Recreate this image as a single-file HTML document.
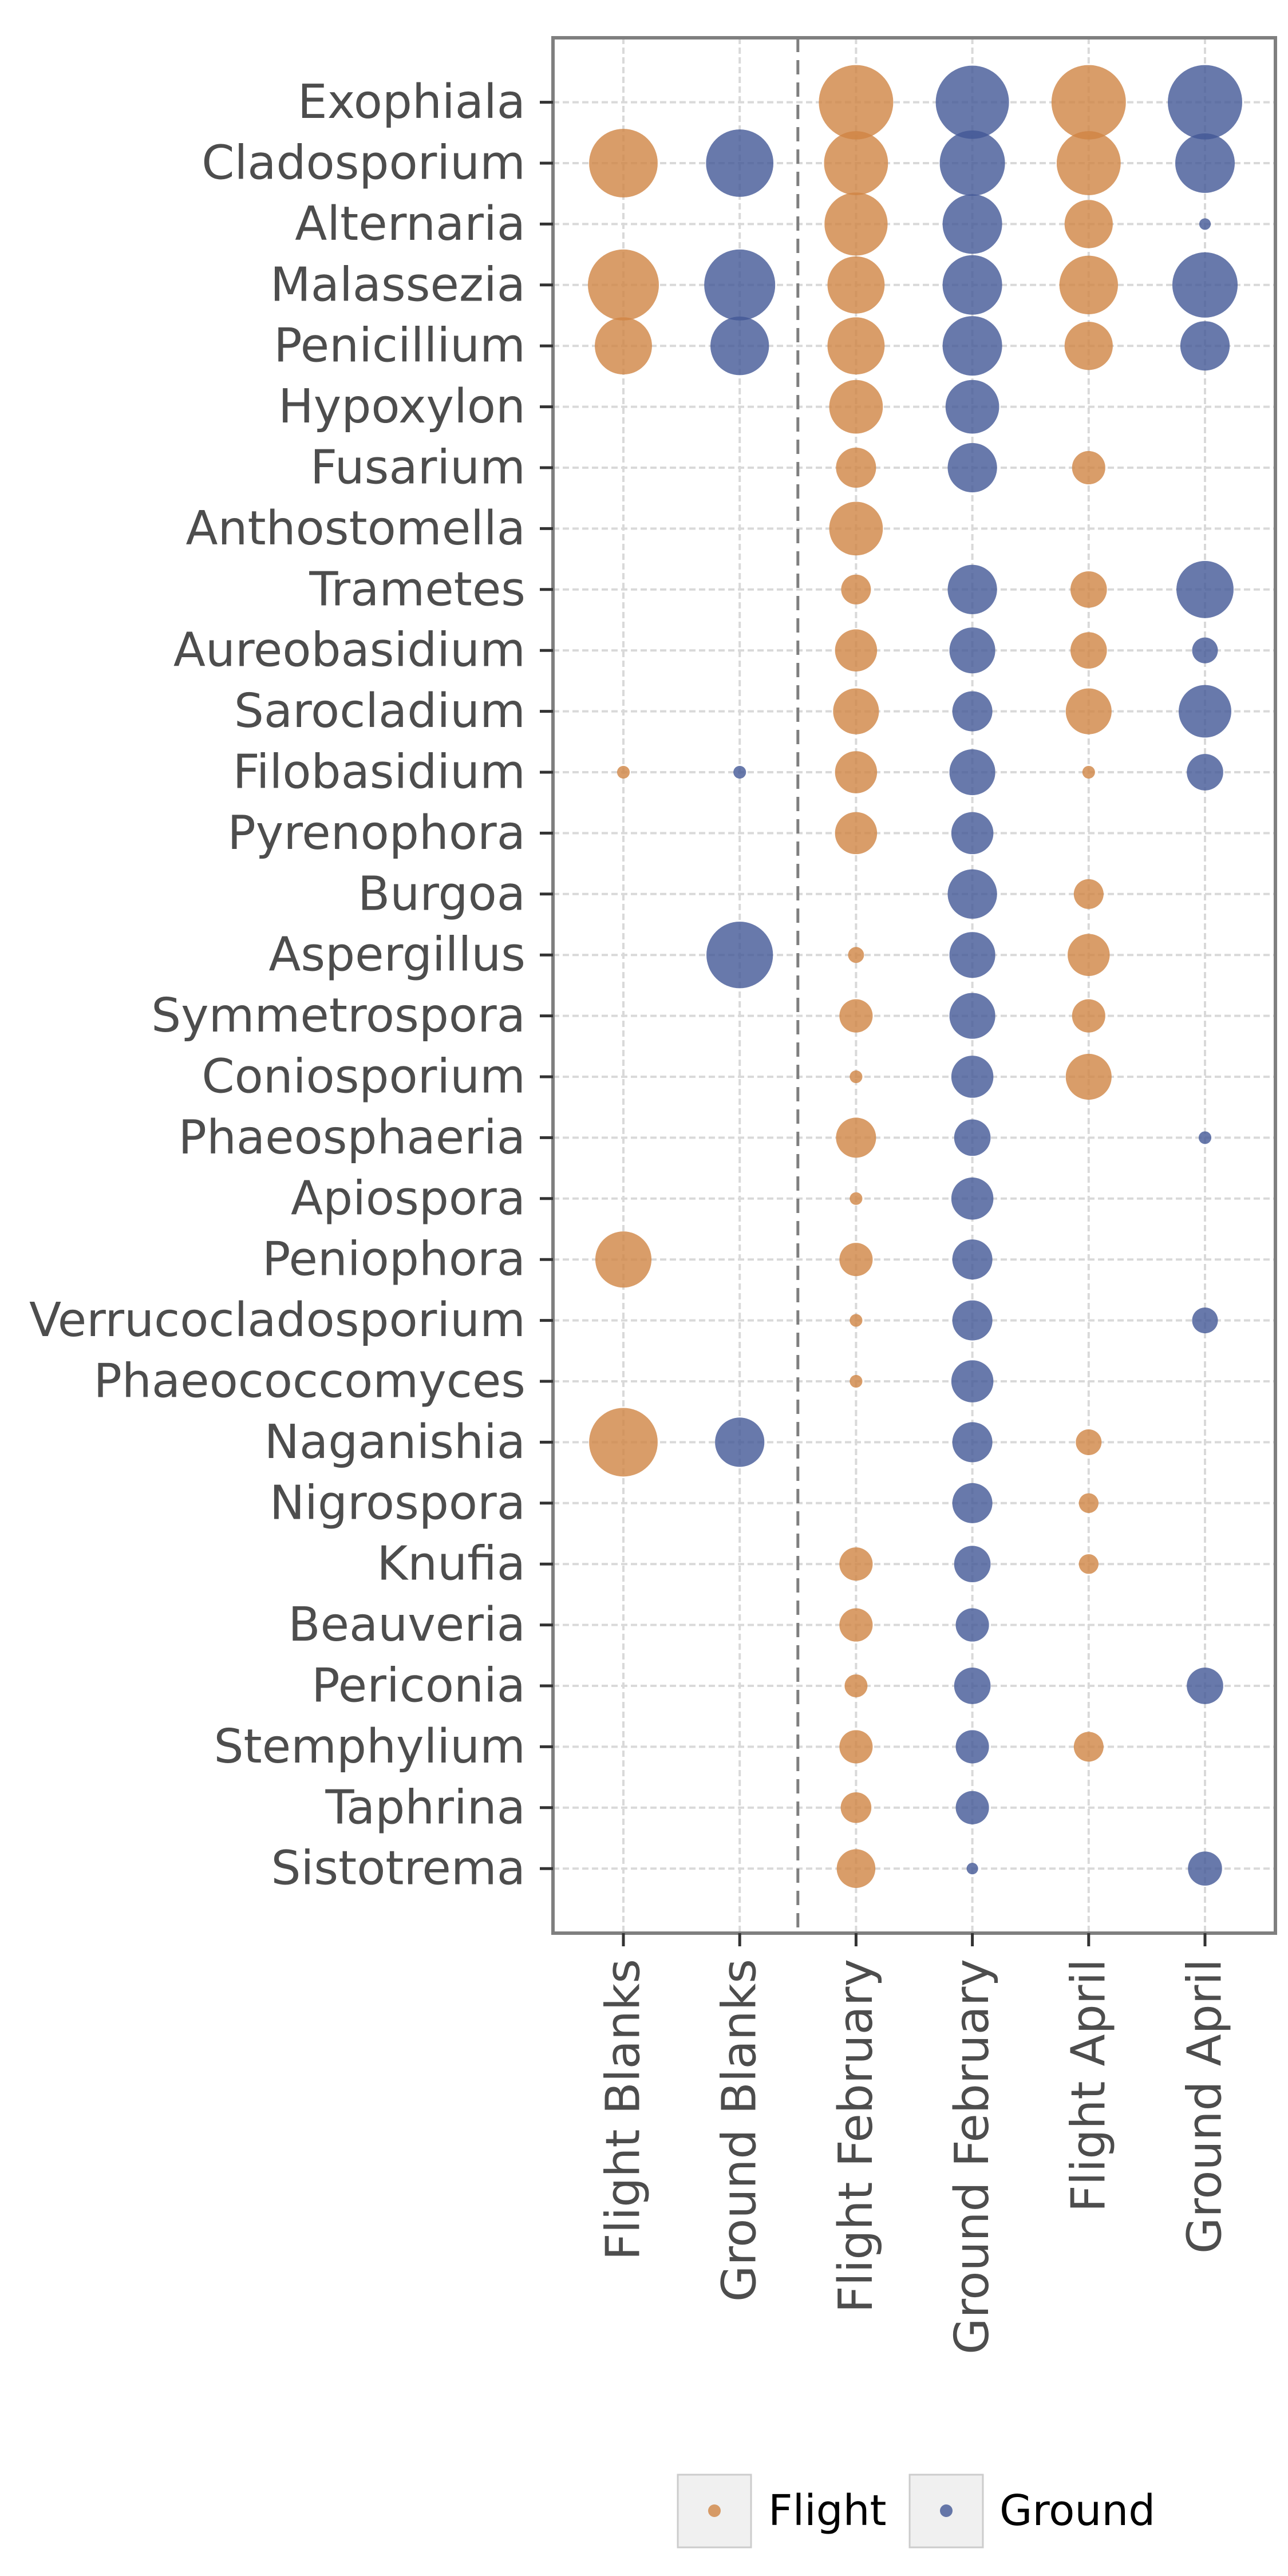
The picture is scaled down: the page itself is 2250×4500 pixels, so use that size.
<!DOCTYPE html>
<html><head><meta charset="utf-8"><style>
html,body{margin:0;padding:0;background:#fff;}
svg{display:block;}
text{font-family:"DejaVu Sans","Liberation Sans",sans-serif;}
</style></head><body>
<svg id="chart" width="2250" height="4500" viewBox="0 0 2250 4500" xmlns="http://www.w3.org/2000/svg">
<g id="grid"></g>
<g id="points"></g>
<g id="axes"></g>
<g id="legend"></g>
</svg>
<script>
const genera = ["Exophiala","Cladosporium","Alternaria","Malassezia","Penicillium","Hypoxylon","Fusarium","Anthostomella","Trametes","Aureobasidium","Sarocladium","Filobasidium","Pyrenophora","Burgoa","Aspergillus","Symmetrospora","Coniosporium","Phaeosphaeria","Apiospora","Peniophora","Verrucocladosporium","Phaeococcomyces","Naganishia","Nigrospora","Knufia","Beauveria","Periconia","Stemphylium","Taphrina","Sistotrema"];
const samples = ["Flight Blanks","Ground Blanks","Flight February","Ground February","Flight April","Ground April"];
const sampleGroup = ["Flight","Ground","Flight","Ground","Flight","Ground"];
const flightBlanks   = [0,85,0,91,59,0,0,0,0,0,0,2.9,0,0,0,0,0,0,0,57,0,0,85,0,0,0,0,0,0,0];
const groundBlanks   = [0,82,0,91,62,0,0,0,0,0,0,2.9,0,0,80,0,0,0,0,0,0,0,44,0,0,0,0,0,0,0];
const flightFebruary = [100,74,72,59,59,52,29,52,16,32,38,32,32,0,4.6,20,2.9,29,2.9,20,2.9,2.9,0,0,20,20,9.5,20,17,27];
const groundFebruary = [97,77,64,64,64,52,44,0,44,38,29,38,32,44,38,38,32,24,32,29,29,32,29,29,24,20,24,20,20,2.4];
const flightApril    = [100,74,42,62,42,0,20,0,24,24,38,2.9,0,16,32,20,38,0,0,0,0,0,12,7,7,0,0,16,0,0];
const groundApril    = [100,64,2.4,77,44,0,0,0,59,12,50,24,0,0,0,0,0,2.9,0,0,12,0,0,0,0,0,24,0,0,21];
const seriesValues = [flightBlanks,groundBlanks,flightFebruary,groundFebruary,flightApril,groundApril];

const NS="http://www.w3.org/2000/svg";
const L=966,R=2228,T=66,B=3377;
const X0=1089,DX=203.2,Y0=178.6,DY=106.4,RMAX=65,VMAX=100;
const xScale=i=>X0+i*DX;
const yScale=i=>Y0+i*DY;
const rScale=v=>RMAX*Math.sqrt(v/VMAX);
const colors={Flight:"rgb(207,133,68)",Ground:"rgb(66,88,150)"};
function mk(tag,attrs,parent){const e=document.createElementNS(NS,tag);for(const k in attrs)e.setAttribute(k,attrs[k]);parent.appendChild(e);return e;}
const grid=document.getElementById('grid'),pts=document.getElementById('points'),axes=document.getElementById('axes'),leg=document.getElementById('legend');
genera.forEach((g,i)=>{const l=mk('line',{x1:L,x2:R,y1:yScale(i),y2:yScale(i),stroke:'#d9d9d9','stroke-width':4,'stroke-dasharray':'11 6'},grid);

});
samples.forEach((s,j)=>{const l=mk('line',{x1:xScale(j),x2:xScale(j),y1:T,y2:B,stroke:'#d9d9d9','stroke-width':4,'stroke-dasharray':'11 6'},grid);

});
seriesValues.forEach((arr,j)=>{arr.forEach((v,i)=>{if(v<=0)return;
const c=mk('circle',{cx:xScale(j),cy:yScale(i),r:rScale(v),fill:colors[sampleGroup[j]],'fill-opacity':0.8},pts);

});});
const sep=mk('line',{x1:(xScale(1)+xScale(2))/2,x2:(xScale(1)+xScale(2))/2,y1:T,y2:B,stroke:'#7f7f7f','stroke-width':5,'stroke-dasharray':'25 14'},axes);


const fr=mk('rect',{x:L,y:T,width:R-L,height:B-T,fill:'none',stroke:'#7f7f7f','stroke-width':6},axes);


genera.forEach((g,i)=>{mk('line',{x1:943,x2:L,y1:yScale(i),y2:yScale(i),stroke:'#333','stroke-width':5},axes);
const t=mk('text',{x:918,y:yScale(i),'text-anchor':'end','dominant-baseline':'central','font-size':82,fill:'#4d4d4d'},axes);t.textContent=g;

});
samples.forEach((s,j)=>{mk('line',{x1:xScale(j),x2:xScale(j),y1:B,y2:B+23,stroke:'#333','stroke-width':5},axes);
const t=mk('text',{x:0,y:0,transform:`translate(${xScale(j)},3422) rotate(-90)`,'text-anchor':'end','dominant-baseline':'central','font-size':82,fill:'#4d4d4d'},axes);t.textContent=s;

});
[["Flight",1184,1342],["Ground",1589,1746]].forEach(([n,bx,tx])=>{
const r=mk('rect',{x:bx,y:4323,width:128,height:127,fill:'#f0f0f0',stroke:'#cccccc','stroke-width':3},leg);


mk('circle',{cx:bx+64,cy:4386,r:11,fill:colors[n],'fill-opacity':0.8},leg);
const t=mk('text',{x:tx,y:4386,'dominant-baseline':'central','font-size':74,fill:'#000'},leg);t.textContent=n;

});
</script>
</body></html>
